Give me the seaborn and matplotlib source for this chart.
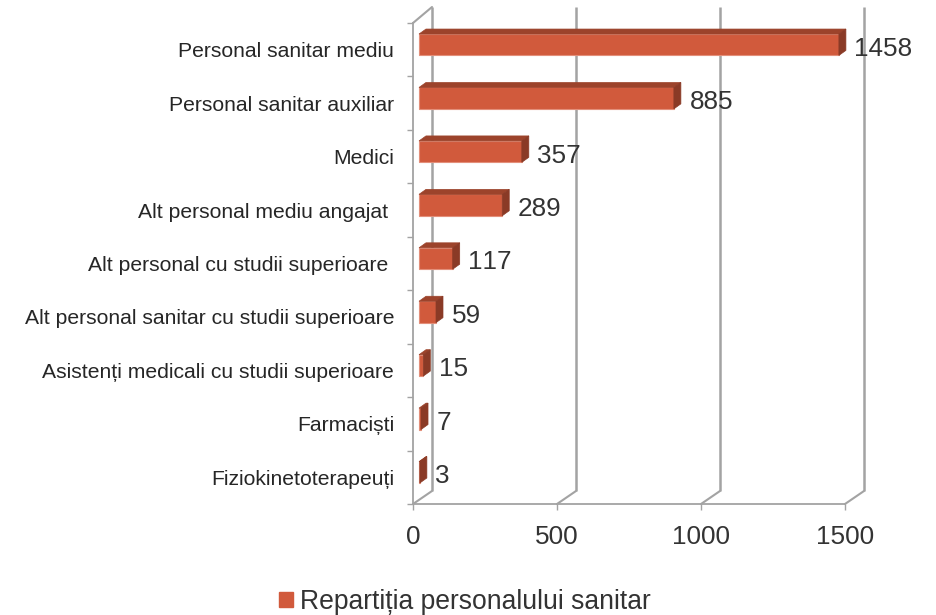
import pandas as pd
import matplotlib
matplotlib.use("Agg")
import matplotlib.pyplot as plt
import seaborn as sns
from matplotlib.patches import Patch, Polygon
from matplotlib.transforms import Affine2D, IdentityTransform

# --------------------------------------
# DATA
# --------------------------------------

categories = [
    "Personal sanitar mediu",
    "Personal sanitar auxiliar",
    "Medici",
    "Alt personal mediu angajat ",
    "Alt personal cu studii superioare ",
    "Alt personal sanitar cu studii superioare",
    "Asistenți medicali cu studii superioare",
    "Farmaciști",
    "Fiziokinetoterapeuți",
]
values = [1458, 885, 357, 289, 117, 59, 15, 7, 3]
x_ticks = [0, 500, 1000, 1500]
series_name = "Repartiția personalului sanitar"

df = pd.DataFrame({"cat": categories, "val": values})

# --------------------------------------
# STYLE
# --------------------------------------

sns.set_style("white")
plt.rcParams["font.family"] = ["Liberation Sans", "DejaVu Sans"]
plt.rcParams["text.kerning_factor"] = 6

FRONT = "#D15A3C"
TOP = "#9C432B"
SIDE = "#8A3A26"
EDGE = "#E38F7A"
GRID = "#A3A3A3"
W, H = 936, 615

fig = plt.figure(figsize=(W / 100, H / 100), dpi=100)
ax = fig.add_axes([413 / W, (H - 504) / H, 432 / W, 481 / H])

sns.barplot(
    data=df, y="cat", x="val", orient="h",
    color=FRONT, saturation=1, width=0.40, ax=ax, zorder=3
)
ax.set_xlim(0, 1500)
ax.set_ylim(8.5, -0.5)
ax.set_xlabel("")
ax.set_ylabel("")

# --------------------------------------
# 3D BARS
# --------------------------------------

px = IdentityTransform()
shift = Affine2D().translate(6, 5)

for p, v in zip(ax.patches, values):
    p.set_transform(ax.transData + shift)
    p.set_edgecolor(EDGE)
    p.set_linewidth(0.8)
    p.set_clip_on(False)

    x0, y0 = ax.transData.transform((0, p.get_y()))
    x1, y1 = ax.transData.transform((v, p.get_y() + p.get_height()))
    x0, x1 = x0 + 6, x1 + 6
    y0, y1 = y0 + 5, y1 + 5
    # y0 is the upper edge in pixels because the category axis is inverted
    ax.add_patch(Polygon(
        [(x0, y0), (x1, y0), (x1 + 7, y0 + 5), (x0 + 7, y0 + 5)],
        closed=True, transform=px, fc=TOP, ec=TOP, lw=0.5, zorder=4, clip_on=False
    ))
    ax.add_patch(Polygon(
        [(x1, y0), (x1 + 7, y0 + 5), (x1 + 7, y1 + 5), (x1, y1)],
        closed=True, transform=px, fc=SIDE, ec=SIDE, lw=0.5, zorder=4, clip_on=False
    ))
    ax.text(
        x1 + 7 + 8.5, (y0 + y1) / 2 - 1.5, str(v), transform=px, fontsize=18.8,
        color="#333333", va="center_baseline", ha="left", zorder=6, clip_on=False
    )

# --------------------------------------
# BACK WALL
# --------------------------------------

back = ax.transData + Affine2D().translate(19, 13)
for t in x_ticks:
    ax.plot([t, t], [8.5, -0.56], transform=back, color=GRID, lw=1.8,
            zorder=1, clip_on=False, solid_capstyle="butt")
    x, y = ax.transData.transform((t, 8.5))
    ax.plot([x, x + 19], [y, y + 13], transform=px, color=GRID, lw=1.5,
            zorder=1, clip_on=False)

x, y = ax.transData.transform((0, -0.5))
ax.plot([x, x + 19], [y, y + 16], transform=px, color=GRID, lw=1.5,
        zorder=1, clip_on=False)

# --------------------------------------
# AXES
# --------------------------------------

for side in ["top", "right"]:
    ax.spines[side].set_visible(False)
for side in ["left", "bottom"]:
    ax.spines[side].set_color(GRID)
    ax.spines[side].set_linewidth(1.3)

ax.set_xticks(x_ticks)
ax.set_yticks([i - 0.5 for i in range(len(categories) + 1)], minor=True)
ax.tick_params(axis="y", which="major", length=0, pad=13.5, labelsize=15.25, labelcolor="#262626")
ax.tick_params(axis="y", which="minor", left=True, length=4.5, width=1, color=GRID)
ax.tick_params(axis="x", bottom=True, length=4, width=1, color=GRID, pad=11,
               labelsize=18.8, labelcolor="#333333")

fig.legend(
    handles=[Patch(color=FRONT, label=series_name)],
    loc="lower left", bbox_to_anchor=(258 / W, -21 / H), frameon=False,
    fontsize=19.1, labelcolor="#333333", handlelength=0.52, handleheight=0.52,
    handletextpad=0.27, borderpad=0.3
)

plt.savefig("out.png", dpi=100)
